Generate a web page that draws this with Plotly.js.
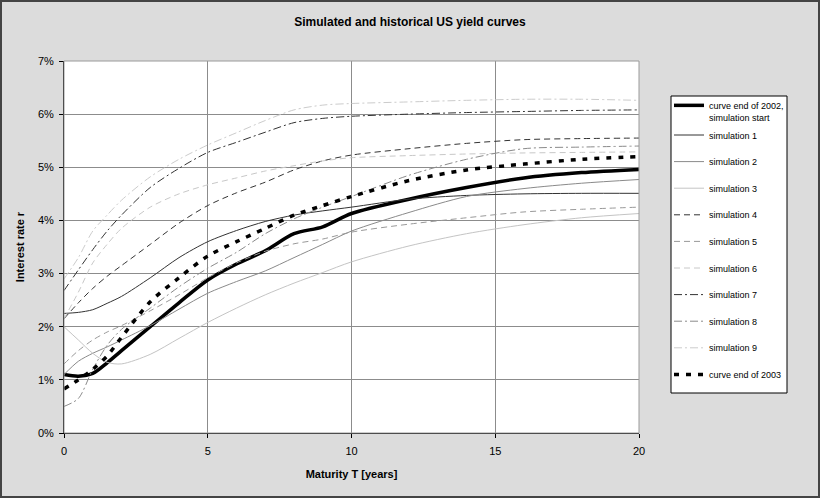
<!DOCTYPE html>
<html><head><meta charset="utf-8">
<script src="https://cdn.plot.ly/plotly-3.0.1.min.js"></script>
<style>html,body{margin:0;padding:0;background:#dcdcdc}#chart{width:820px;height:498px}</style>
</head><body><div id="chart"></div>
<script>
// Maturities (years)
const maturity = [0, 0.5, 1, 1.5, 2, 3, 4, 5, 6, 7, 8, 9, 10, 12, 14, 16, 18, 20];
// Interest rates in %
const curve2002 = [1.10, 1.07, 1.12, 1.32, 1.55, 2.00, 2.45, 2.88, 3.18, 3.43, 3.75, 3.88, 4.13, 4.40, 4.62, 4.80, 4.90, 4.96];
const sim1 = [2.25, 2.27, 2.32, 2.44, 2.57, 2.92, 3.30, 3.60, 3.81, 3.98, 4.10, 4.18, 4.25, 4.40, 4.47, 4.50, 4.51, 4.51];
const sim2 = [1.10, 1.35, 1.50, 1.62, 1.75, 2.02, 2.33, 2.63, 2.85, 3.05, 3.30, 3.55, 3.80, 4.15, 4.45, 4.60, 4.70, 4.77];
const sim3 = [2.00, 1.75, 1.50, 1.33, 1.30, 1.48, 1.78, 2.08, 2.35, 2.60, 2.82, 3.02, 3.22, 3.52, 3.75, 3.92, 4.05, 4.13];
const sim4 = [2.15, 2.45, 2.72, 2.95, 3.15, 3.55, 3.95, 4.28, 4.52, 4.72, 4.95, 5.12, 5.23, 5.35, 5.45, 5.52, 5.54, 5.55];
const sim5 = [1.30, 1.55, 1.75, 1.90, 2.02, 2.30, 2.60, 2.92, 3.20, 3.42, 3.56, 3.65, 3.78, 3.93, 4.05, 4.16, 4.21, 4.25];
const sim6 = [2.15, 2.65, 3.20, 3.55, 3.85, 4.25, 4.50, 4.67, 4.80, 4.93, 5.03, 5.12, 5.18, 5.22, 5.25, 5.27, 5.28, 5.29];
const sim7 = [2.68, 3.07, 3.45, 3.80, 4.10, 4.62, 4.98, 5.28, 5.47, 5.66, 5.84, 5.92, 5.96, 6.00, 6.03, 6.05, 6.07, 6.08];
const sim8 = [0.50, 0.65, 1.20, 1.65, 1.95, 2.35, 2.75, 3.10, 3.40, 3.75, 4.03, 4.25, 4.45, 4.85, 5.15, 5.35, 5.38, 5.40];
const sim9 = [2.90, 3.30, 3.80, 4.10, 4.38, 4.82, 5.15, 5.42, 5.65, 5.88, 6.08, 6.17, 6.20, 6.23, 6.26, 6.28, 6.28, 6.26];
const curve2003 = [0.83, 1.00, 1.20, 1.45, 1.80, 2.47, 2.92, 3.33, 3.60, 3.85, 4.10, 4.28, 4.45, 4.75, 4.95, 5.06, 5.15, 5.20];

const names = ['curve end of 2002,<br>simulation start', 'simulation 1', 'simulation 2', 'simulation 3', 'simulation 4',
  'simulation 5', 'simulation 6', 'simulation 7', 'simulation 8', 'simulation 9', 'curve end of 2003'];
const xTicks = [0, 5, 10, 15, 20];
const yTicks = [0, 1, 2, 3, 4, 5, 6, 7];
const yTickLabels = ['0%', '1%', '2%', '3%', '4%', '5%', '6%', '7%'];

const series = [curve2002, sim1, sim2, sim3, sim4, sim5, sim6, sim7, sim8, sim9, curve2003];
const styles = [
  {color: '#000000', width: 3.5, dash: 'solid'},
  {color: '#333333', width: 1, dash: 'solid'},
  {color: '#8a8a8a', width: 1, dash: 'solid'},
  {color: '#c4c4c4', width: 1, dash: 'solid'},
  {color: '#333333', width: 1, dash: '6px,4px'},
  {color: '#999999', width: 1, dash: '6px,4px'},
  {color: '#c8c8c8', width: 1, dash: '6px,4px'},
  {color: '#333333', width: 1, dash: '8px,3px,2px,3px'},
  {color: '#8a8a8a', width: 1, dash: '8px,3px,2px,3px'},
  {color: '#cccccc', width: 1, dash: '8px,3px,2px,3px'},
  {color: '#000000', width: 3.5, dash: '5px,7px'}
];

const traces = series.map((s, i) => ({
  x: maturity, y: s, type: 'scatter', mode: 'lines', name: names[i],
  legend: i === 0 ? 'legend2' : 'legend',
  legendgroup: 'g' + i,
  line: {color: styles[i].color, width: styles[i].width, dash: styles[i].dash, shape: 'spline', smoothing: 0.8}
}));

const W = 820, H = 498, L = 64, R = 181, T = 61, B = 65;
const pw = W - L - R, ph = H - T - B;
const px2x = p => (p - L) / pw;
const px2y = p => (H - B - p) / ph;

const layout = {
  width: W, height: H,
  margin: {l: L, r: R, t: T, b: B},
  paper_bgcolor: '#dcdcdc', plot_bgcolor: '#ffffff',
  font: {family: 'Liberation Sans, Arial, sans-serif', color: '#000'},
  title: {text: '<b>Simulated and historical US yield curves</b>', font: {size: 12}, x: 0.5, xref: 'container', y: 1 - 22 / H, yref: 'container', yanchor: 'middle'},
  xaxis: {
    range: [0, 20], tickvals: xTicks, ticks: 'outside', ticklen: 4, tickcolor: '#000',
    showline: true, linecolor: '#000', linewidth: 1, gridcolor: '#8c8c8c', gridwidth: 1, zeroline: false,
    tickfont: {size: 11}, ticklabelstandoff: 4,
    title: {text: '<b>Maturity T [years]</b>', font: {size: 11}, standoff: 14}
  },
  yaxis: {
    range: [0, 7], tickvals: yTicks, ticktext: yTickLabels, ticks: 'outside', ticklen: 4, tickcolor: '#000',
    showline: true, linecolor: '#000', linewidth: 1, gridcolor: '#8c8c8c', gridwidth: 1, zeroline: false,
    tickfont: {size: 11}, ticklabelstandoff: 3,
    title: {text: '<b>Interest rate r</b>', font: {size: 11}, standoff: 11}
  },
  showlegend: true,
  legend: {
    x: px2x(669), y: px2y(120.5), xanchor: 'left', yanchor: 'top',
    bgcolor: 'rgba(0,0,0,0)', borderwidth: 0,
    font: {size: 9}, tracegroupgap: 7.6, itemwidth: 30
  },
  legend2: {
    x: px2x(669), y: px2y(93), xanchor: 'left', yanchor: 'top', valign: 'top',
    bgcolor: 'rgba(0,0,0,0)', borderwidth: 0,
    font: {size: 9}, itemwidth: 30
  },
  shapes: [
    {type: 'rect', xref: 'paper', yref: 'paper',
     x0: px2x(1), x1: px2x(W - 1), y0: px2y(H - 1), y1: px2y(1),
     line: {color: '#444', width: 2}, fillcolor: 'rgba(0,0,0,0)', layer: 'below'},
    {type: 'rect', xref: 'paper', yref: 'paper', x0: 0, x1: 1, y0: 0, y1: 1,
     line: {color: '#9a9a9a', width: 1}, fillcolor: 'rgba(0,0,0,0)', layer: 'above'},
    {type: 'rect', xref: 'paper', yref: 'paper',
     x0: px2x(671), x1: px2x(787), y0: px2y(393), y1: px2y(96),
     line: {color: '#000', width: 1}, fillcolor: '#ffffff', layer: 'below'}
  ]
};

Plotly.newPlot('chart', traces, layout, {displayModeBar: false, staticPlot: true});
</script></body></html>
